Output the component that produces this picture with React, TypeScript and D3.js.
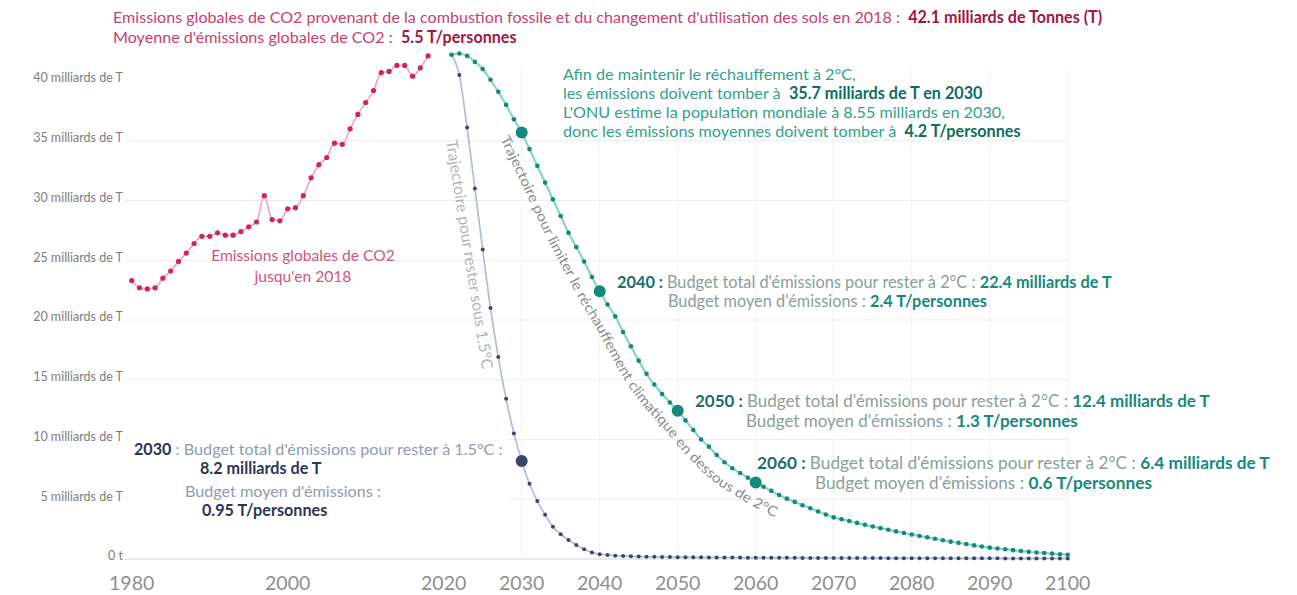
import React, { useLayoutEffect, useRef } from "react";
import * as d3 from "d3";

const W = 1297;
const H = 595;

// ---- data ----
const histStart = 1980;
const historical = [
  23.3, 22.7, 22.6, 22.7, 23.5, 24.1, 24.9, 25.6, 26.4, 27.0,
  27.0, 27.3, 27.1, 27.1, 27.4, 27.8, 28.2, 30.4, 28.4, 28.3,
  29.3, 29.4, 30.4, 31.9, 33.0, 33.6, 34.8, 34.7, 36.0, 37.2,
  38.2, 39.2, 40.7, 40.8, 41.3, 41.3, 40.4, 41.1, 42.1,
];

const trajStart = 2021;
const traj2 = [
  42.2, 42.3, 42.1, 41.6, 41.0, 40.1, 39.1, 38.0, 36.8, 35.7,
  34.3, 32.9, 31.5, 30.1, 28.7, 27.3, 26.1, 24.9, 23.6, 22.4,
  21.3, 20.3, 19.0, 17.8, 16.6, 15.5, 14.6, 13.8, 13.1, 12.4,
  11.6, 10.8, 10.0, 9.4, 8.7, 8.1, 7.6, 7.2, 6.8, 6.4,
  6.05, 5.7, 5.35, 5.05, 4.78, 4.5, 4.25, 3.98, 3.72, 3.48,
  3.33, 3.18, 3.02, 2.87, 2.72, 2.58, 2.45, 2.31, 2.18, 2.05,
  1.93, 1.81, 1.69, 1.57, 1.45, 1.35, 1.25, 1.14, 1.04, 0.95,
  0.88, 0.81, 0.74, 0.67, 0.6, 0.55, 0.5, 0.45, 0.4, 0.36,
];
const traj15 = [
  42.2, 40.5, 36.1, 31.0, 25.9, 21.0, 16.9, 13.4, 10.5, 8.2,
  6.3, 4.85, 3.7, 2.7, 2.07, 1.59, 1.17, 0.81, 0.55, 0.4,
  0.33, 0.28, 0.25, 0.22, 0.2, 0.19, 0.18, 0.17, 0.16, 0.15,
  0.15, 0.14, 0.14, 0.13, 0.13, 0.12, 0.12, 0.12, 0.11, 0.11,
  0.11, 0.1, 0.1, 0.1, 0.1, 0.09, 0.09, 0.09, 0.09, 0.09,
  0.08, 0.08, 0.08, 0.08, 0.08, 0.08, 0.07, 0.07, 0.07, 0.07,
  0.07, 0.07, 0.07, 0.06, 0.06, 0.06, 0.06, 0.06, 0.06, 0.06,
  0.06, 0.05, 0.05, 0.05, 0.05, 0.05, 0.05, 0.05, 0.05, 0.05,
];
const highlight2 = [2030, 2040, 2050, 2060];
const highlight15 = [2030];

const yTicks = [0, 5, 10, 15, 20, 25, 30, 35, 40];
const yTickLabels = [
  "0 t", "5 milliards de T", "10 milliards de T", "15 milliards de T",
  "20 milliards de T", "25 milliards de T", "30 milliards de T",
  "35 milliards de T", "40 milliards de T",
];
const xTicks = [1980, 2000, 2020, 2030, 2040, 2050, 2060, 2070, 2080, 2090, 2100];
const gridYears = [2030, 2040, 2050, 2060, 2070, 2080, 2090, 2100];

// ---- scales ----
const x = d3.scaleLinear().domain([1980, 2100]).range([131.7, 1067.7]);
const y = d3.scaleLinear().domain([0, 40]).range([559, 81]);

type Pt = { year: number; v: number };
const toPts = (start: number, vals: number[]): Pt[] => vals.map((v, i) => ({ year: start + i, v }));
const histPts = toPts(histStart, historical);
const t2Pts = toPts(trajStart, traj2);
const t15Pts = toPts(trajStart, traj15);

const line = d3
  .line<Pt>()
  .x((d) => x(d.year))
  .y((d) => y(d.v))
  .curve(d3.curveMonotoneX);

function offsetPoints(pts: Pt[], dist: number): [number, number][] {
  const p = pts.map((d) => [x(d.year), y(d.v)] as [number, number]);
  return p.map((q, i) => {
    const a = p[Math.max(0, i - 1)];
    const b = p[Math.min(p.length - 1, i + 1)];
    const dx = b[0] - a[0];
    const dy = b[1] - a[1];
    const L = Math.hypot(dx, dy) || 1;
    return [q[0] + (-dy / L) * dist, q[1] + (dx / L) * dist] as [number, number];
  });
}

const FONT = "Lato, 'Open Sans', sans-serif";

const C = {
  pink: "#c8406f",
  pinkBold: "#a0163f",
  pinkLabel: "#d4517f",
  tealText: "#33a08c",
  tealBold: "#0d6e62",
  tealHead: "#1b6f69",
  tealGrey: "#8a9e9b",
  tealVal: "#16897b",
  navyGrey: "#8f9ab5",
  navy: "#2c3554",
};

type Part = [string, string, boolean?];

function Line({ x0, y0, w, fs, parts, anchor, id, copy }: { x0: number; y0: number; w?: number; fs: number; parts: Part[]; anchor?: string; id?: string; copy?: string }) {
  return (
    <text
      x={x0}
      y={y0}
      data-w={w}
      data-fs={fs}
      data-id={id}
      data-copy={copy}
      fontSize={fs}
      textAnchor={anchor || "start"}
      style={{ whiteSpace: "pre" }}
    >
      {parts.map(([t, c, b], i) => (
        <tspan key={i} fill={c} fontWeight={b ? 700 : 400}>
          {t}
        </tspan>
      ))}
    </text>
  );
}

function fitAll(svg: SVGSVGElement | null) {
  if (!svg) return;
  const sizes: Record<string, number> = {};
  svg.querySelectorAll<SVGTextElement>("text[data-w]").forEach((t) => {
    const target = +(t.getAttribute("data-w") || 0);
    const base = +(t.getAttribute("data-fs") || 14);
    t.setAttribute("font-size", String(base));
    const len = t.getComputedTextLength();
    let fs = base;
    if (len > 0 && target > 0) fs = (base * target) / len;
    t.setAttribute("font-size", String(fs));
    const id = t.getAttribute("data-id");
    if (id) sizes[id] = fs;
  });
  svg.querySelectorAll<SVGTextElement>("text[data-copy]").forEach((t) => {
    const k = t.getAttribute("data-copy") || "";
    if (sizes[k]) t.setAttribute("font-size", String(sizes[k]));
  });
}

export default function App() {
  const ref = useRef<SVGSVGElement>(null);
  useLayoutEffect(() => {
    fitAll(ref.current);
    if ((document as any).fonts && (document as any).fonts.ready) {
      (document as any).fonts.ready.then(() => fitAll(ref.current));
    }
  }, []);

  // label path along the 2°C trajectory, offset to its lower-left side
  const segPts = t2Pts.filter((d) => d.year >= 2028 && d.year <= 2078);
  const off = offsetPoints(segPts, 22);
  const label2Path = d3.line().curve(d3.curveBasis)(off) || "";
  const cum: number[] = [0];
  for (let i = 1; i < off.length; i++) cum.push(cum[i - 1] + Math.hypot(off[i][0] - off[i - 1][0], off[i][1] - off[i - 1][1]));
  const at = (yr: number) => {
    const f = yr - segPts[0].year;
    const i = Math.floor(f);
    return cum[i] + (cum[Math.min(i + 1, cum.length - 1)] - cum[i]) * (f - i);
  };
  const labelStart = at(2029.7);
  const labelLen = at(2063.6) - labelStart;

  return (
    <svg ref={ref} width={W} height={H} style={{ position: "absolute", left: 0, top: 0, background: "#fff" }} fontFamily={FONT}>
      <defs>
        <path id="label2path" d={label2Path} />
      </defs>

      {/* grid */}
      {yTicks.slice(1, 8).map((t) => (
        <line key={"gy" + t} x1={125} x2={1068} y1={y(t)} y2={y(t)} stroke="#ececec" strokeWidth={1} />
      ))}
      {gridYears.map((yr) => (
        <line key={"gx" + yr} x1={x(yr)} x2={x(yr)} y1={y(41)} y2={y(0)} stroke="#f1f1f1" strokeWidth={1} />
      ))}
      <line x1={125} x2={1070} y1={y(0)} y2={y(0)} stroke="#d4d4d4" strokeWidth={1.2} />

      {/* y labels */}
      {yTicks.map((t, i) => (
        <text key={"yl" + t} x={123} y={y(t) - 3} dy="0.35em" textAnchor="end" fontSize={12.5} fill="#7d7d7d">
          {yTickLabels[i]}
        </text>
      ))}
      {/* x labels */}
      {xTicks.map((t) => (
        <text key={"xl" + t} x={x(t)} y={590} textAnchor="middle" fontSize={19.5} fill="#8e8e8e">
          {t}
        </text>
      ))}

      {/* white box behind 2030 annotation */}
      <rect x={128} y={438} width={380} height={84} fill="#fff" />

      {/* lines */}
      <path d={line(histPts) || ""} fill="none" stroke="#f2a3ba" strokeWidth={1.6} />
      <path d={line(t15Pts) || ""} fill="none" stroke="#aebddb" strokeWidth={1.7} />
      <path d={line(t2Pts) || ""} fill="none" stroke="#86d5c8" strokeWidth={2.2} />

      {/* points */}
      {t15Pts.map((d) => (
        <circle key={"d" + d.year} cx={x(d.year)} cy={y(d.v)} r={highlight15.includes(d.year) ? 6 : 2} fill="#3b4567" />
      ))}
      {t2Pts.map((d) => (
        <circle key={"t" + d.year} cx={x(d.year)} cy={y(d.v)} r={highlight2.includes(d.year) ? 6 : 2.3} fill="#12897b" />
      ))}
      {histPts.map((d) => (
        <circle key={"h" + d.year} cx={x(d.year)} cy={y(d.v)} r={2.6} fill="#d3245a" />
      ))}

      {/* curve labels */}
      <text fontSize={14} fill="#8c8c8c">
        <textPath href="#label2path" startOffset={labelStart} textLength={labelLen} lengthAdjust="spacingAndGlyphs">
          Trajectoire pour limiter le réchauffement climatique en dessous de 2°C
        </textPath>
      </text>
      <text transform="translate(446,141) rotate(81)" fontSize={13.5} fill="#b5b5b5" data-w={232} data-fs={13.5}>
        Trajectoire pour rester sous 1.5°C
      </text>

      {/* title */}
      <Line id="title" x0={113} y0={23} w={990} fs={15} parts={[
        ["Emissions globales de CO2 provenant de la combustion fossile et du changement d'utilisation des sols en 2018 :  ", C.pink],
        ["42.1 milliards de Tonnes (T)", C.pinkBold, true],
      ]} />
      <Line copy="title" x0={113} y0={43} fs={15} parts={[
        ["Moyenne d'émissions globales de CO2 :  ", C.pink],
        ["5.5 T/personnes", C.pinkBold, true],
      ]} />

      {/* historical label */}
      <Line id="hist" x0={303} y0={261} w={184} fs={15} anchor="middle" parts={[["Emissions globales de CO2", C.pinkLabel]]} />
      <Line copy="hist" x0={303} y0={282} fs={15} anchor="middle" parts={[["jusqu'en 2018", C.pinkLabel]]} />

      {/* 2°C block */}
      <Line copy="afin" x0={563} y0={80} fs={14.5} parts={[["Afin de maintenir le réchauffement à 2°C,", C.tealText]]} />
      <Line copy="afin" x0={563} y0={99} fs={14.5} parts={[
        ["les émissions doivent tomber à  ", C.tealText],
        ["35.7 milliards de T en 2030", C.tealBold, true],
      ]} />
      <Line copy="afin" x0={563} y0={118} fs={14.5} parts={[["L'ONU estime la population mondiale à 8.55 milliards en 2030,", C.tealText]]} />
      <Line id="afin" x0={563} y0={137} w={458} fs={14.5} parts={[
        ["donc les émissions moyennes doivent tomber à  ", C.tealText],
        ["4.2 T/personnes", C.tealBold, true],
      ]} />

      {/* 2040 */}
      <Line id="a40" x0={617} y0={288} w={495} fs={14} parts={[
        ["2040 : ", C.tealHead, true],
        ["Budget total d'émissions pour rester à 2°C : ", C.tealGrey],
        ["22.4 milliards de T", C.tealVal, true],
      ]} />
      <Line copy="a40" x0={668} y0={307} fs={14} parts={[
        ["Budget moyen d'émissions : ", C.tealGrey],
        ["2.4 T/personnes", C.tealVal, true],
      ]} />
      {/* 2050 */}
      <Line id="a50" x0={695} y0={407} w={515} fs={14} parts={[
        ["2050 : ", C.tealHead, true],
        ["Budget total d'émissions pour rester à 2°C : ", C.tealGrey],
        ["12.4 milliards de T", C.tealVal, true],
      ]} />
      <Line copy="a50" x0={746} y0={427} fs={14} parts={[
        ["Budget moyen d'émissions : ", C.tealGrey],
        ["1.3 T/personnes", C.tealVal, true],
      ]} />
      {/* 2060 */}
      <Line id="a60" x0={757} y0={469} w={513} fs={14} parts={[
        ["2060 : ", C.tealHead, true],
        ["Budget total d'émissions pour rester à 2°C : ", C.tealGrey],
        ["6.4 milliards de T", C.tealVal, true],
      ]} />
      <Line copy="a60" x0={815} y0={489} fs={14} parts={[
        ["Budget moyen d'émissions : ", C.tealGrey],
        ["0.6 T/personnes", C.tealVal, true],
      ]} />

      {/* 2030 (1.5°C) */}
      <Line id="a30" x0={134} y0={455} w={369} fs={14} parts={[
        ["2030", C.navy, true],
        [" : Budget total d'émissions pour rester à 1.5°C :", C.navyGrey],
      ]} />
      <Line copy="a30" x0={200} y0={474} fs={14} parts={[["8.2 milliards de T", C.navy, true]]} />
      <Line copy="a30" x0={185} y0={497} fs={14} parts={[["Budget moyen d'émissions :", C.navyGrey]]} />
      <Line copy="a30" x0={202} y0={516} fs={14} parts={[["0.95 T/personnes", C.navy, true]]} />
    </svg>
  );
}
